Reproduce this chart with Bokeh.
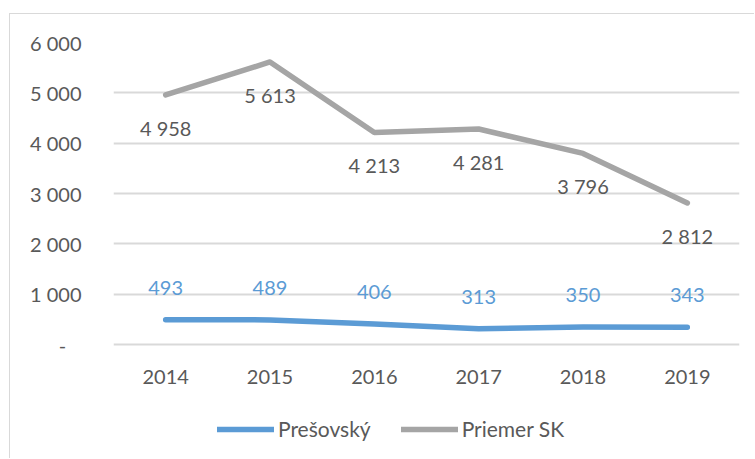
from bokeh.plotting import figure
from bokeh.models import (ColumnDataSource, FixedTicker, Range1d, Legend, LegendItem, LabelSet)
from bokeh.core.properties import value
from bokeh.embed import file_html
from bokeh.resources import INLINE

years = ["2014", "2015", "2016", "2017", "2018", "2019"]
presovsky = [493, 489, 406, 313, 350, 343]
priemer_sk = [4958, 5613, 4213, 4281, 3796, 2812]
presovsky_labels = ["493", "489", "406", "313", "350", "343"]
priemer_labels = ["4 958", "5 613", "4 213", "4 281", "3 796", "2 812"]
y_ticks = [0, 1000, 2000, 3000, 4000, 5000, 6000]
y_tick_labels = ["-\u00a0\u00a0\u00a0", "1 000", "2 000", "3 000", "4 000", "5 000", "6 000"]
series_names = ["Prešovský", "Priemer SK"]

BLUE = "#5B9BD5"
GRAY = "#A5A5A5"
TEXT = "#595959"
GRID = "#D9D9D9"
FONT = "Lato"
FS = "20px"

# layout (pixels)
W, H = 745, 445
TOP, BOTTOM = 28, 5
AXIS_PX = 302            # pixels from 0 to 6000
below_px = H - TOP - BOTTOM - AXIS_PX
y_max = y_ticks[-1]
y_min = -y_max * below_px / AXIS_PX

p = figure(x_range=years, y_range=Range1d(y_min, y_max), width=W, height=H,
           output_backend="svg", toolbar_location=None, x_axis_location=None,
           min_border_left=103, min_border_right=16, min_border_top=TOP, min_border_bottom=BOTTOM)
p.styles = {"border-left": f"1px solid {GRID}", "border-top": f"1px solid {GRID}",
            "margin-top": "13px", "margin-left": "9px"}
p.outline_line_color = None
p.background_fill_color = "white"
p.border_fill_color = "white"

src = ColumnDataSource(dict(x=years, a=presovsky, b=priemer_sk, zero=[0] * len(years),
                            la=presovsky_labels, lb=priemer_labels))

r1 = p.line("x", "a", source=src, line_color=BLUE, line_width=5.5, line_cap="round", line_join="round")
r2 = p.line("x", "b", source=src, line_color=GRAY, line_width=5.5, line_cap="round", line_join="round")

lab1 = LabelSet(x="x", y="a", text="la", source=src, y_offset=32, text_align="center",
                text_baseline="middle", text_color=BLUE, text_font=value(FONT), text_font_size=FS)
lab2 = LabelSet(x="x", y="b", text="lb", source=src, y_offset=-33, text_align="center",
                text_baseline="middle", text_color=TEXT, text_font=value(FONT), text_font_size=FS)
# category (x axis) labels
labx = LabelSet(x="x", y="zero", text="x", source=src, y_offset=-32, text_align="center",
                text_baseline="middle", text_color=TEXT, text_font=value(FONT), text_font_size=FS)
p.add_layout(lab1)
p.add_layout(lab2)
p.add_layout(labx)

# y axis
p.yaxis.ticker = FixedTicker(ticks=y_ticks)
p.yaxis.major_label_overrides = {t: l for t, l in zip(y_ticks, y_tick_labels)}
p.yaxis.axis_line_color = None
p.yaxis.major_tick_line_color = None
p.yaxis.minor_tick_line_color = None
p.yaxis.major_label_standoff = 26
p.yaxis.major_label_text_font = FONT
p.yaxis.major_label_text_font_size = FS
p.yaxis.major_label_text_color = TEXT

p.xgrid.grid_line_color = None
p.ygrid.grid_line_color = GRID
p.ygrid.grid_line_width = 2

legend = Legend(items=[LegendItem(label=series_names[0], renderers=[r1]),
                       LegendItem(label=series_names[1], renderers=[r2])],
                orientation="horizontal", location=(104, 13),
                label_text_font=FONT, label_text_font_size="21px", label_text_color=TEXT,
                glyph_width=57, glyph_height=20, label_standoff=4, spacing=30,
                border_line_color=None, background_fill_alpha=0, padding=0, margin=0)
p.add_layout(legend)

open("out.html", "w").write(file_html(p, INLINE))
